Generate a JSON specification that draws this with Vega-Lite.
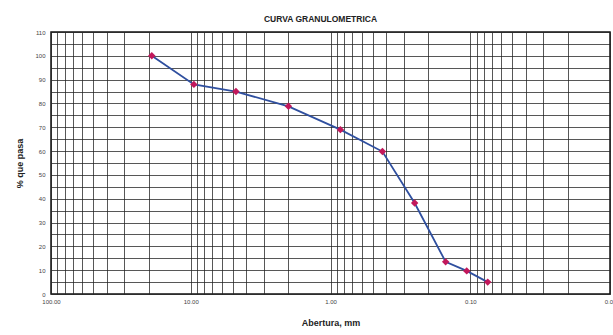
{
  "$schema": "https://vega.github.io/schema/vega-lite/v6.json",
  "width": 559,
  "height": 262,
  "autosize": "none",
  "padding": {"left": 51, "top": 32, "right": 3, "bottom": 41},
  "background": "white",
  "title": {"text": "CURVA GRANULOMETRICA", "fontSize": 8.5, "font": "Liberation Sans", "fontWeight": "bold", "color": "#222", "offset": 6, "dx": -10},
  "config": {
    "view": {"stroke": "#111", "strokeWidth": 1.5},
    "axis": {"labelFont": "Liberation Sans", "titleFont": "Liberation Sans"}
  },
  "data": {"values": [
    {"abertura": 19.0, "pasa": 100.0},
    {"abertura": 9.5, "pasa": 88.0},
    {"abertura": 4.75, "pasa": 85.0},
    {"abertura": 2.0, "pasa": 78.8},
    {"abertura": 0.85, "pasa": 69.0},
    {"abertura": 0.425, "pasa": 59.8},
    {"abertura": 0.25, "pasa": 38.2},
    {"abertura": 0.15, "pasa": 13.5},
    {"abertura": 0.106, "pasa": 9.7},
    {"abertura": 0.075, "pasa": 5.0}
  ]},
  "encoding": {
    "x": {"field": "abertura", "type": "quantitative",
      "scale": {"type": "log", "domain": [0.01, 100], "reverse": true, "nice": false},
      "axis": {
        "title": "Abertura, mm", "titleFontSize": 9, "titleFontWeight": "bold", "titleColor": "#222", "titlePadding": 14,
        "values": [100,90,80,70,60,50,40,30,20,10,9,8,7,6,5,4,3,2,1,0.9,0.8,0.7,0.6,0.5,0.4,0.3,0.2,0.1,0.09,0.08,0.07,0.06,0.05,0.04,0.03,0.02,0.01],
        "labelExpr": "indexof([100,10,1,0.1,0.01], datum.value) >= 0 ? format(datum.value, '.2f') : ''",
        "labelOverlap": false, "labelBound": false, "labelFlush": false,
        "labelFontSize": 6, "labelColor": "#444", "labelPadding": 4,
        "ticks": false, "domain": false,
        "grid": true, "gridColor": "#222", "gridWidth": 0.9, "gridOpacity": 0.85
      }},
    "y": {"field": "pasa", "type": "quantitative",
      "scale": {"domain": [0, 110], "nice": false},
      "axis": {
        "title": "% que pasa", "titleFontSize": 9, "titleFontWeight": "bold", "titleColor": "#222", "titlePadding": 10,
        "values": [0,5,10,15,20,25,30,35,40,45,50,55,60,65,70,75,80,85,90,95,100,105,110],
        "labelExpr": "datum.value % 10 === 0 ? datum.value : ''",
        "labelOverlap": false, "labelFontSize": 6, "labelColor": "#444", "labelPadding": 6,
        "ticks": false, "domain": false,
        "grid": true, "gridColor": "#222", "gridWidth": 0.9, "gridOpacity": 0.85
      }}
  },
  "layer": [
    {"mark": {"type": "line", "color": "#2f4f9f", "strokeWidth": 1.8}},
    {"mark": {"type": "point", "shape": "diamond", "filled": true, "color": "#c2185b", "size": 55, "opacity": 1}}
  ]
}
